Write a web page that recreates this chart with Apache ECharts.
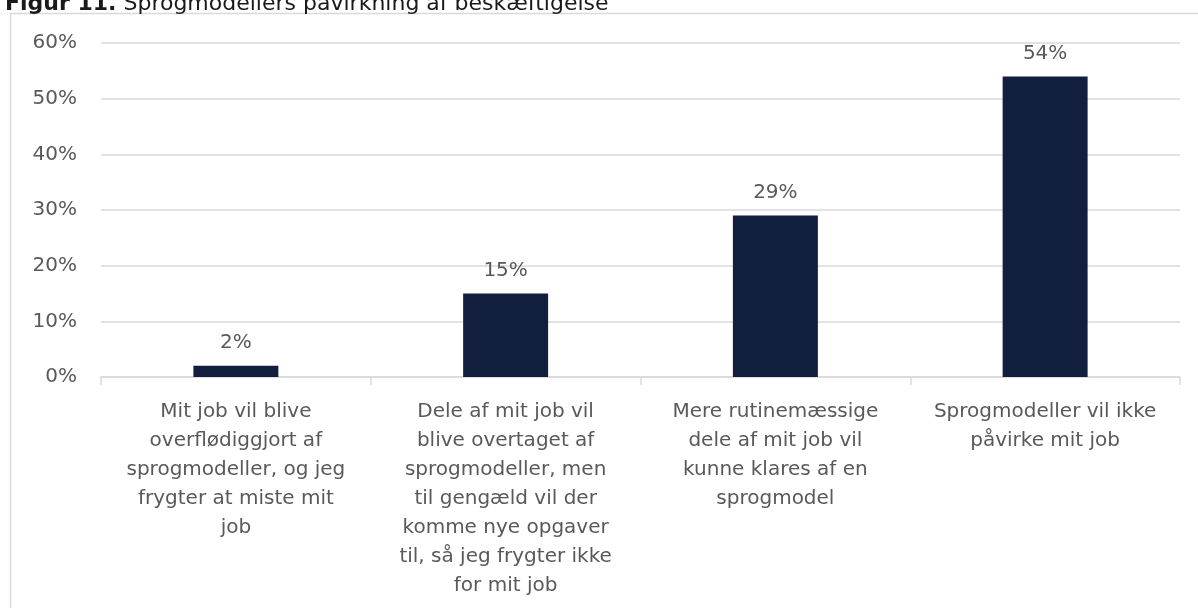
<!DOCTYPE html>
<html>
<head>
<meta charset="utf-8">
<script src="https://cdn.jsdelivr.net/npm/echarts@6/dist/echarts.min.js"></script>
<style>
  html, body { margin: 0; padding: 0; background: #fff; }
  #chart { width: 1198px; height: 608px; }
</style>
</head>
<body>
<div id="chart"></div>
<script>
  const categories = [
    'Mit job vil blive\noverflødiggjort af\nsprogmodeller, og jeg\nfrygter at miste mit\njob',
    'Dele af mit job vil\nblive overtaget af\nsprogmodeller, men\ntil gengæld vil der\nkomme nye opgaver\ntil, så jeg frygter ikke\nfor mit job',
    'Mere rutinemæssige\ndele af mit job vil\nkunne klares af en\nsprogmodel',
    'Sprogmodeller vil ikke\npåvirke mit job'
  ];
  const shares = [2, 15, 29, 54];
  const yTicks = [0, 10, 20, 30, 40, 50, 60];

  const font = 'DejaVu Sans';
  const grey = '#595959';

  let myChart = echarts.init(document.getElementById('chart'));
  let option = {
    animation: false,
    textStyle: { fontFamily: font },
    title: {
      left: 0,
      top: -12,
      text: '{b|Figur 11.} Sprogmodellers påvirkning af beskæftigelse',
      textStyle: {
        fontSize: 22,
        fontWeight: 'normal',
        color: '#1a1a1a',
        fontFamily: font,
        rich: { b: { fontSize: 22, fontWeight: 'bold', color: '#1a1a1a', fontFamily: font } }
      }
    },
    graphic: [{
      type: 'rect',
      shape: { x: 10.5, y: 13.5, width: 1300, height: 700 },
      style: { fill: 'none', stroke: '#d9d9d9', lineWidth: 1.5 },
      silent: true,
      z: -1
    }],
    grid: { left: 101, right: 18, top: 43, bottom: 231 },
    xAxis: {
      type: 'category',
      data: categories,
      axisLine: { lineStyle: { color: '#d9d9d9', width: 1.5 } },
      axisTick: { show: true, length: 8, lineStyle: { color: '#d9d9d9', width: 1.5 } },
      axisLabel: {
        color: grey, fontSize: 20, lineHeight: 29, margin: 20, interval: 0,
        fontFamily: font
      }
    },
    yAxis: {
      type: 'value',
      min: yTicks[0],
      max: yTicks[yTicks.length - 1],
      interval: 10,
      axisLabel: { formatter: '{value}%', color: grey, fontSize: 20, margin: 24, fontFamily: font },
      splitLine: { lineStyle: { color: '#d9d9d9', width: 1.5 } },
      axisLine: { show: false },
      axisTick: { show: false }
    },
    series: [{
      type: 'bar',
      data: shares,
      barWidth: '31.5%',
      itemStyle: { color: '#111e3e' },
      label: {
        show: true, position: 'top', distance: 13,
        formatter: '{c}%', color: grey, fontSize: 20, fontFamily: font
      }
    }]
  };
  myChart.setOption(option, true);
</script>
</body>
</html>
